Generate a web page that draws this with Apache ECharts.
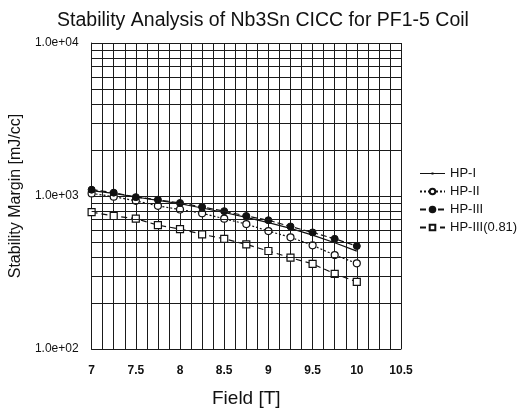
<!DOCTYPE html>
<html><head><meta charset="utf-8">
<script src="https://cdn.jsdelivr.net/npm/echarts@6/dist/echarts.min.js"></script>
<style>html,body{margin:0;padding:0;background:#fff}#c{width:519px;height:413px}</style>
</head><body><div id="c"></div>
<script>
var fields = [7, 7.25, 7.5, 7.75, 8, 8.25, 8.5, 8.75, 9, 9.25, 9.5, 9.75, 10];
var hp1 = [1085, 1040, 985, 935, 890, 835, 780, 725, 670, 615, 555, 495, 436];
var hp2 = [1040, 990, 930, 862, 816, 770, 711, 655, 590, 537, 476, 411, 363];
var hp3 = [1100, 1052, 983, 945, 900, 848, 796, 740, 694, 632, 578, 525, 471];
var hp3b = [785, 740, 711, 645, 608, 562, 525, 483, 437, 395, 360, 310, 275];
var seriesNames = ['HP-I', 'HP-II', 'HP-III', 'HP-III(0.81)'];
var xTickLabels = ['7', '7.5', '8', '8.5', '9', '9.5', '10', '10.5'];
var yTickLabels = {100: '1.0e+02', 1000: '1.0e+03', 10000: '1.0e+04'};
var minorLogLines = [200,300,400,500,600,700,800,900,2000,3000,4000,5000,6000,7000,8000,9000];

function pairs(v){ return fields.map(function(x,i){ return [x, v[i]]; }); }
var font = '"Liberation Sans", Arial, sans-serif';
var gridLine = {color: '#1a1a1a', width: 1};

var chart = echarts.init(document.getElementById('c'), null, {renderer: 'canvas'});
chart.setOption({
  animation: false,
  backgroundColor: '#fff',
  title: {
    text: 'Stability Analysis of Nb3Sn CICC for PF1-5 Coil',
    left: 258, textAlign: 'center', top: 6,
    textStyle: {fontFamily: font, fontSize: 19.5, fontWeight: 'normal', color: '#111'}
  },
  grid: {left: 91, top: 43, right: 118, bottom: 57},
  legend: {
    orient: 'vertical', left: 414, top: 162,
    itemWidth: 25, itemHeight: 7, itemGap: 5,
    data: [
      {name: 'HP-I', icon: 'path://M0,0M0,3.1L25,3.1L25,3.9L0,3.9ZM11.5,2.5L13.5,2.5L13.5,4.5L11.5,4.5ZM0,7'},
      {name: 'HP-II'}, {name: 'HP-III'}, {name: 'HP-III(0.81)'}
    ],
    textStyle: {fontFamily: font, fontSize: 13, color: '#111', lineHeight: 13}
  },
  xAxis: {
    type: 'value', min: 7, max: 10.5, interval: 0.125,
    name: 'Field [T]', nameLocation: 'middle', nameGap: 40,
    nameTextStyle: {fontFamily: font, fontSize: 19, color: '#111'},
    axisLine: {show: true, lineStyle: gridLine},
    axisTick: {show: false},
    splitLine: {show: true, lineStyle: gridLine},
    axisLabel: {
      margin: 16, fontFamily: font, fontSize: 12, color: '#111', fontWeight: 'bold',
      formatter: function(v){
        var s = String(Math.round(v*1000)/1000);
        return xTickLabels.indexOf(s) >= 0 ? s : '';
      }
    }
  },
  yAxis: {
    type: 'log', logBase: 10, min: 100, max: 10000,
    name: 'Stability Margin [mJ/cc]', nameLocation: 'middle', nameGap: 62,
    nameTextStyle: {fontFamily: font, fontSize: 16, color: '#111'},
    axisLine: {show: true, lineStyle: gridLine},
    axisTick: {show: false},
    splitLine: {show: true, lineStyle: gridLine},
    axisLabel: {
      margin: 13, fontFamily: font, fontSize: 12, color: '#111',
      formatter: function(v){ return yTickLabels[Math.round(v)] || ''; }
    }
  },
  series: [
    {
      name: 'HP-I', type: 'line', data: pairs(hp1), symbol: 'none',
      lineStyle: {color: '#111', width: 1.2, type: 'solid'}, itemStyle: {color: '#111'},
      markLine: {
        silent: true, symbol: ['none','none'], label: {show: false},
        lineStyle: {color: '#1a1a1a', width: 1, type: 'solid'},
        data: minorLogLines.map(function(v){ return {yAxis: v}; })
      },
      z: 3
    },
    {
      name: 'HP-II', type: 'line', data: pairs(hp2), symbol: 'circle', symbolSize: 7,
      lineStyle: {color: '#111', width: 1.2, type: [2, 2]},
      itemStyle: {color: '#fff', borderColor: '#111', borderWidth: 1.2}, z: 4
    },
    {
      name: 'HP-III', type: 'line', data: pairs(hp3), symbol: 'circle', symbolSize: 7,
      lineStyle: {color: '#111', width: 1.2, type: [6, 3]},
      itemStyle: {color: '#111', borderColor: '#111', borderWidth: 1}, z: 4
    },
    {
      name: 'HP-III(0.81)', type: 'line', data: pairs(hp3b), symbol: 'rect', symbolSize: 7,
      lineStyle: {color: '#111', width: 1.2, type: [6, 4]},
      itemStyle: {color: '#fff', borderColor: '#111', borderWidth: 1.2}, z: 4
    }
  ]
});
</script></body></html>
